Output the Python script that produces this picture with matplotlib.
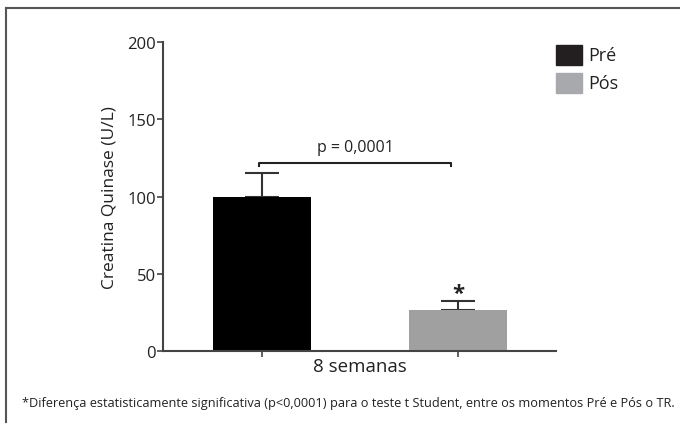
import matplotlib.pyplot as plt
from matplotlib.lines import Line2D
import numpy as np

plt.rcParams['font.family'] = ['Open Sans', 'DejaVu Sans']

groups = ['Pré', 'Pós']
means = [100, 26.7]
errors = [15, 5.5]
colors = ['#000000', '#a0a0a0']
legend_colors = ['#231f20', '#a7a9ac']
yticks = [0, 50, 100, 150, 200]
p_text = 'p = 0,0001'
xlabel = '8 semanas'
ylabel = 'Creatina Quinase (U/L)'
footnote = ('*Diferença estatisticamente significativa (p<0,0001) para o teste t Student, '
            'entre os momentos Pré e Pós o TR.')

fig = plt.figure(figsize=(6.8, 4.31), dpi=100)
ax = fig.add_axes([0.2397, 0.1833, 0.5779, 0.7169])

x = np.arange(len(groups))
ax.bar(x, means, width=0.5, color=colors, zorder=2)
ax.errorbar(x, means, yerr=[[0, 0], errors], fmt='none', ecolor='#333333',
            elinewidth=1.5, capsize=12, capthick=1.5, zorder=1)

ax.set_xlim(-0.505, 1.5)
ax.set_ylim(0, 200)
ax.set_yticks(yticks)
ax.set_xticks(x)
ax.set_xticklabels([])
ax.tick_params(axis='y', labelsize=12, colors='#444444', labelcolor='#222222',
               length=4, width=1.2, pad=1)
ax.tick_params(axis='x', length=4, width=1.2, colors='#444444')
for s in ['top', 'right']:
    ax.spines[s].set_visible(False)
for s in ['left', 'bottom']:
    ax.spines[s].set_color('#444444')
    ax.spines[s].set_linewidth(1.5)
ax.set_ylabel(ylabel, fontsize=12.5, color='#222222', labelpad=7)
ax.text(0.5, -4, xlabel, ha='center', va='top', fontsize=13.5, color='#222222')

# significance bracket
bx0, bx1, by = -0.015, 0.965, 122
ax.plot([bx0, bx0, bx1, bx1], [by - 2.5, by, by, by - 2.5], color='#222222', lw=1.5)
ax.text((bx0 + bx1) / 2, by + 5, p_text, ha='center', va='bottom', fontsize=11.5,
        color='#222222')
ax.text(x[1], means[1] + errors[1] - 2, '*', ha='center', va='bottom', fontsize=16,
        color='#222222', fontweight='bold')

# legend
for i, (g, c) in enumerate(zip(groups, legend_colors)):
    y0 = 1 - (46 + 28 * i) / 431
    fig.patches.append(plt.Rectangle((556 / 680, y0 - 20 / 431), 26 / 680, 20 / 431,
                                     transform=fig.transFigure, color=c))
    fig.text(588 / 680, y0 - 10 / 431, g, ha='left', va='center', fontsize=13,
             color='#222222')

fig.text(22 / 680, 1 - 404 / 431, footnote, ha='left', va='center', fontsize=9.15,
         color='#222222')

# frame
fig.add_artist(Line2D([6 / 680, 1], [1 - 9 / 431] * 2, color='#555555', lw=1.5))
fig.add_artist(Line2D([6 / 680] * 2, [1 - 423 / 431, 1 - 9 / 431], color='#555555', lw=1.5))

fig.savefig('out.png', dpi=100)
